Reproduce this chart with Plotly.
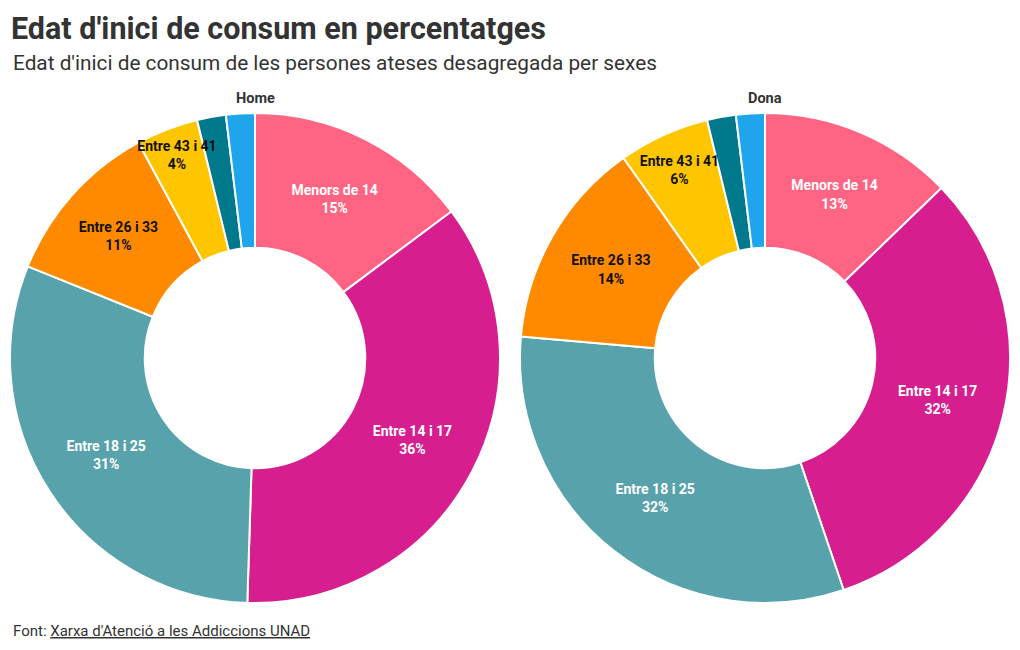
import plotly.graph_objects as go

categories = ["Menors de 14", "Entre 14 i 17", "Entre 18 i 25", "Entre 26 i 33",
              "Entre 43 i 41", "Entre 42 i 49", "Més de 50"]
home_values = [14.8, 35.7, 30.6, 11.0, 4.1, 1.9, 1.9]
dona_values = [12.8, 32.0, 31.6, 13.8, 6.0, 1.9, 1.9]
show_label = [True, True, True, True, True, False, False]

colors = ["#FF6482", "#D61E8F", "#58A2AC", "#FF8A00", "#FFC600", "#00798C", "#1EA5EC"]
text_colors = ["#FFFFFF", "#FFFFFF", "#FFFFFF", "#111111", "#111111", "#FFFFFF", "#FFFFFF"]

FONT = "Roboto"
W, H = 1020, 650

def px_x(x):
    return x / W

def px_y(y):
    return 1 - y / H

templates = ["<b>%{label}<br>%{percent:.0%}</b>" if s else "" for s in show_label]

fig = go.Figure()
for vals, xd in [(home_values, [10, 500]), (dona_values, [520, 1010])]:
    dom = dict(x=[px_x(xd[0]), px_x(xd[1])], y=[px_y(603), px_y(113)])
    # coloured slices
    fig.add_trace(go.Pie(
        labels=categories, values=vals, hole=0.45, sort=False,
        direction="clockwise",
        marker=dict(colors=colors, line=dict(color="#FFFFFF", width=2)),
        textinfo="none", domain=dom, showlegend=False,
    ))
    # transparent overlay carrying the labels so they sit above every slice
    fig.add_trace(go.Pie(
        labels=categories, values=vals, hole=0.45, sort=False,
        direction="clockwise",
        marker=dict(colors=["rgba(0,0,0,0)"] * len(vals), line=dict(width=0)),
        texttemplate=templates,
        textposition="inside",
        insidetextorientation="horizontal",
        textfont=dict(family=FONT, size=14, color=text_colors),
        hoverinfo="skip", domain=dom, showlegend=False,
    ))

fig.update_layout(
    width=W, height=H,
    margin=dict(l=0, r=0, t=0, b=0),
    paper_bgcolor="#FFFFFF",
    font=dict(family=FONT, color="#333333"),
    uniformtext=dict(minsize=14, mode="show"),
    title=dict(text="<b>Edat d'inici de consum en percentatges</b>",
               x=px_x(11), xanchor="left", y=px_y(28), yanchor="middle",
               font=dict(family=FONT, size=30.5, color="#333333")),
    annotations=[
        dict(text="Edat d'inici de consum de les persones ateses desagregada per sexes",
             x=px_x(11), y=px_y(63), xref="paper", yref="paper", xanchor="left", yanchor="middle",
             showarrow=False, font=dict(family=FONT, size=20.8, color="#333333")),
        dict(text="<b>Home</b>", x=px_x(255), y=px_y(99), xref="paper", yref="paper",
             xanchor="center", yanchor="middle", showarrow=False,
             font=dict(family=FONT, size=14.5, color="#333333")),
        dict(text="<b>Dona</b>", x=px_x(765), y=px_y(99), xref="paper", yref="paper",
             xanchor="center", yanchor="middle", showarrow=False,
             font=dict(family=FONT, size=14.5, color="#333333")),
        dict(text="Font: <u>Xarxa d'Atenció a les Addiccions UNAD</u>",
             x=px_x(11), y=px_y(631), xref="paper", yref="paper", xanchor="left", yanchor="middle",
             showarrow=False, font=dict(family=FONT, size=15, color="#333333")),
    ],
)

fig.write_html("out.html", config={"displayModeBar": False},
               post_script="document.body.style.margin='0';document.body.style.overflow='hidden';")
